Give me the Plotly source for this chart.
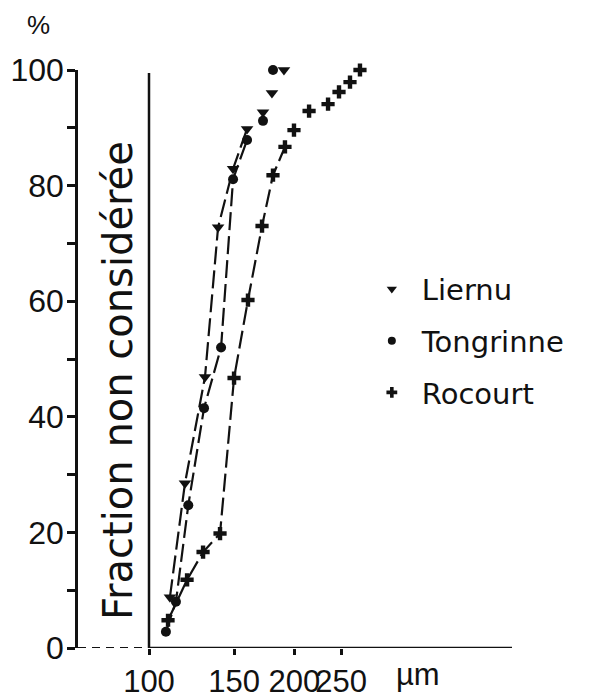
import math
import plotly.graph_objects as go

# ---- data ----
liernu_x = [110.5, 118.7, 130.6, 139.0, 149.3, 159.6, 172.2, 179.7, 190.3]
liernu_y = [8.8, 28.5, 46.9, 72.8, 82.9, 89.8, 92.7, 96.0, 100.0]

tongrinne_x = [108.4, 113.7, 120.6, 130.0, 141.0, 149.3, 159.6, 172.2, 180.6]
tongrinne_y = [2.8, 8.0, 24.7, 41.5, 52.0, 81.1, 87.9, 91.2, 100.0]

rocourt_x = [109.5, 119.9, 129.4, 140.3, 150.0, 160.3, 171.4, 180.6, 191.2,
             199.6, 214.5, 234.8, 247.4, 260.7, 273.4]
rocourt_y = [4.8, 11.8, 16.6, 19.8, 46.7, 60.2, 73.0, 81.8, 86.7,
             89.6, 92.9, 94.1, 96.2, 97.9, 100.0]

series_names = ["Liernu", "Tongrinne", "Rocourt"]
x_ticks = [100, 150, 200, 250]
y_major = [0, 20, 40, 60, 80, 100]

# number of points joined by lines (top points are left unconnected)
n_joined = [6, 7, 9]

TXT = "Liberation Sans, Arial, sans-serif"
LBL = "DejaVu Sans, sans-serif"
BLACK = "#111111"

markers = [
    dict(symbol="triangle-down", size=11, color=BLACK),
    dict(symbol="circle", size=10, color=BLACK),
    dict(symbol="cross", size=11, color=BLACK),
]
xs = [liernu_x, tongrinne_x, rocourt_x]
ys = [liernu_y, tongrinne_y, rocourt_y]

fig = go.Figure()
for name, x, y, m, n in zip(series_names, xs, ys, markers, n_joined):
    fig.add_trace(go.Scatter(
        x=x[:n], y=y[:n], mode="lines", showlegend=False, hoverinfo="skip",
        line=dict(color=BLACK, width=2.2, dash="18px,6px"), cliponaxis=False))
    fig.add_trace(go.Scatter(
        x=x, y=y, mode="markers", name=name, showlegend=False,
        marker=m, cliponaxis=False))
# legend entries (markers only)
for i, (name, m) in enumerate(zip(series_names, markers)):
    mm = dict(m)
    mm["size"] = m["size"] - 2
    fig.add_trace(go.Scatter(
        x=[None], y=[None], mode="markers", name=name, marker=mm,
        legendgroup=str(i), showlegend=True))

PLOT_W = 434
PLOT_H = 578
xmin_log = 2 - 71 / 483
xmax_log = 2 + 363 / 483

fig.update_layout(
    width=598, height=690,
    margin=dict(l=70, r=94, t=62, b=50, autoexpand=False),
    paper_bgcolor="white", plot_bgcolor="white",
    showlegend=True,
    legend=dict(
        x=0.654, y=0.665, xanchor="left", yanchor="top",
        font=dict(family=LBL, size=29, color=BLACK),
        bgcolor="rgba(0,0,0,0)", traceorder="grouped", tracegroupgap=11,
        itemwidth=50,
    ),
    xaxis=dict(
        type="log", range=[xmin_log, xmax_log], automargin=False,
        showgrid=False, zeroline=False, showline=False,
        tickvals=x_ticks, ticktext=[str(v) for v in x_ticks],
        ticks="outside", ticklen=6, tickwidth=2.5, tickcolor=BLACK,
        tickangle=0,
        tickfont=dict(family=TXT, size=31, color=BLACK),
    ),
    yaxis=dict(
        range=[0, 100], showgrid=False, zeroline=False, automargin=False,
        showline=True, linewidth=2.5, linecolor=BLACK,
        tickvals=y_major, ticks="outside", ticklen=8, tickwidth=2.5,
        tickcolor=BLACK, ticklabelstandoff=-3,
        minor=dict(dtick=10, ticks="outside", ticklen=8, tickwidth=2.5,
                   tickcolor=BLACK, showgrid=False),
        tickfont=dict(family=TXT, size=32, color=BLACK),
    ),
    font=dict(family=TXT, color=BLACK),
)

x_right = 10 ** xmax_log
# axis frame pieces
fig.add_shape(type="line", xref="x", yref="y", x0=100, x1=x_right, y0=0, y1=0,
              line=dict(color=BLACK, width=2.5))
fig.add_shape(type="line", xref="paper", yref="y", x0=0, x1=71 / PLOT_W, y0=0, y1=0,
              line=dict(color=BLACK, width=2, dash="8px,6px"))
fig.add_shape(type="line", xref="x", yref="y", x0=100, x1=100, y0=-1.2, y1=99.5,
              line=dict(color=BLACK, width=2.5))

fig.add_annotation(text="Fraction non considérée", textangle=-90,
                   xref="paper", yref="paper", xanchor="center", yanchor="middle",
                   x=40 / PLOT_W, y=(648 - 381) / PLOT_H,
                   showarrow=False, font=dict(family=LBL, size=40, color=BLACK))
fig.add_annotation(text="%", xref="paper", yref="paper",
                   xanchor="center", yanchor="top",
                   x=(38 - 78) / PLOT_W, y=(648 - 8) / PLOT_H, showarrow=False,
                   font=dict(family=TXT, size=26, color=BLACK))
fig.add_annotation(text="µm", xref="paper", yref="paper",
                   xanchor="center", yanchor="middle",
                   x=(418 - 78) / PLOT_W, y=(648 - 674) / PLOT_H, showarrow=False,
                   font=dict(family=TXT, size=31, color=BLACK))

fig.write_html("out.html")
